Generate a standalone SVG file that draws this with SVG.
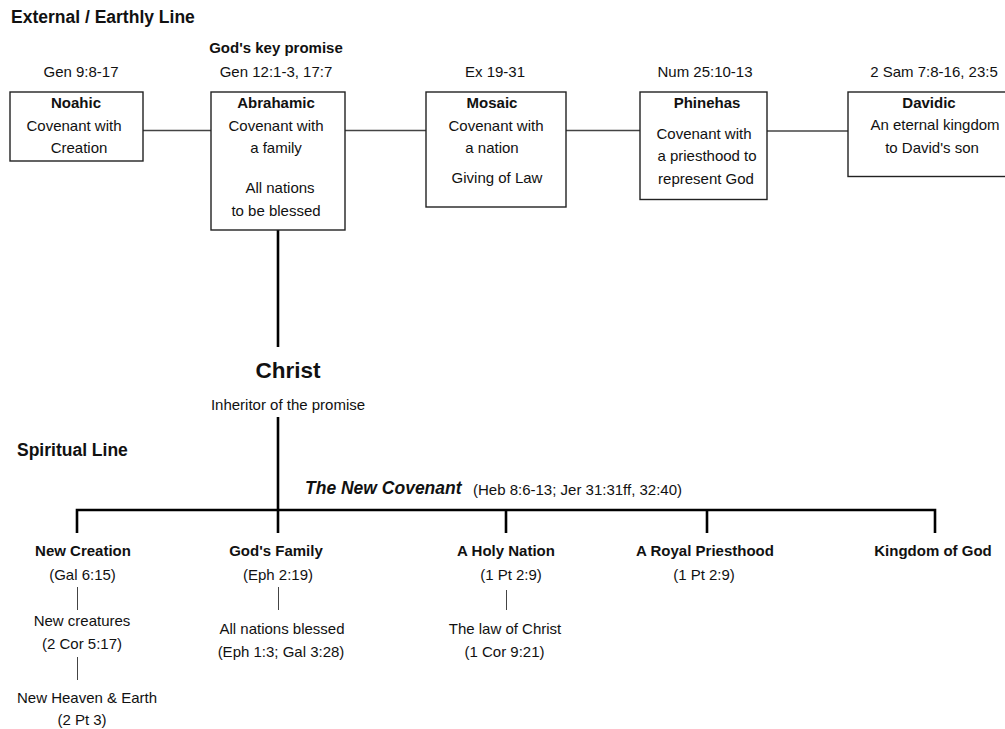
<svg xmlns="http://www.w3.org/2000/svg" width="1005" height="729" viewBox="0 0 1005 729">
<style>
text{font-family:"Liberation Sans",Arial,Helvetica,sans-serif;fill:#111;}
.t{font-size:15px;text-anchor:middle;}
.b{font-size:15px;font-weight:bold;text-anchor:middle;}
.h{font-size:17.5px;font-weight:bold;}
.box{fill:#fff;stroke:#222;stroke-width:1.4;}
.c{stroke:#444;stroke-width:1.3;fill:none;}
.k{stroke:#000;stroke-width:2.6;fill:none;}
.s{stroke:#444;stroke-width:1;fill:none;}
</style>
<rect width="1005" height="729" fill="#fff"/>
<text class="h" x="11" y="23">External / Earthly Line</text>
<text class="h" x="17" y="456">Spiritual Line</text>

<g id="connectors">
<line class="c" x1="143" y1="130.5" x2="211" y2="130.5"/>
<line class="c" x1="345" y1="130.5" x2="426" y2="130.5"/>
<line class="c" x1="566" y1="130.5" x2="640" y2="130.5"/>
<line class="c" x1="767" y1="131" x2="848" y2="131"/>
<line class="k" x1="278" y1="230" x2="278" y2="347"/>
<line class="k" x1="278" y1="417" x2="278" y2="510"/>
<polyline class="k" points="77,533 77,510 935,510 935,533"/>
<line class="k" x1="278" y1="510" x2="278" y2="533"/>
<line class="k" x1="506" y1="510" x2="506" y2="533"/>
<line class="k" x1="707" y1="510" x2="707" y2="533"/>
<line class="s" x1="77.5" y1="587" x2="77.5" y2="610"/>
<line class="s" x1="77.5" y1="657" x2="77.5" y2="680"/>
<line class="s" x1="278.5" y1="587" x2="278.5" y2="610"/>
<line class="s" x1="506.5" y1="590" x2="506.5" y2="610"/>
</g>

<g id="noahic">
<text class="t" x="81" y="77">Gen 9:8-17</text>
<rect class="box" x="10" y="92" width="133" height="69"/>
<text class="b" x="76" y="108">Noahic</text>
<text class="t" x="74" y="130.5">Covenant with</text>
<text class="t" x="79" y="153">Creation</text>
</g>

<g id="abrahamic">
<text class="b" x="276" y="53">God's key promise</text>
<text class="t" x="276" y="77">Gen 12:1-3, 17:7</text>
<rect class="box" x="211" y="92" width="134" height="138"/>
<text class="b" x="276" y="108">Abrahamic</text>
<text class="t" x="276" y="130.5">Covenant with</text>
<text class="t" x="276" y="153">a family</text>
<text class="t" x="280" y="193">All nations</text>
<text class="t" x="276" y="216">to be blessed</text>
</g>

<g id="mosaic">
<text class="t" x="495" y="76.5">Ex 19-31</text>
<rect class="box" x="426" y="92" width="140" height="115"/>
<text class="b" x="492" y="108">Mosaic</text>
<text class="t" x="496" y="131">Covenant with</text>
<text class="t" x="492" y="153">a nation</text>
<text class="t" x="497" y="183">Giving of Law</text>
</g>

<g id="phinehas">
<text class="t" x="705" y="76.5">Num 25:10-13</text>
<rect class="box" x="640" y="92" width="127" height="107.5"/>
<text class="b" x="707" y="108">Phinehas</text>
<text class="t" x="704" y="138.5">Covenant with</text>
<text class="t" x="707" y="161">a priesthood to</text>
<text class="t" x="706" y="184">represent God</text>
</g>

<g id="davidic">
<text class="t" x="934" y="76.5">2 Sam 7:8-16, 23:5</text>
<rect class="box" x="848" y="92" width="162" height="84.5"/>
<text class="b" x="929" y="108">Davidic</text>
<text class="t" x="935" y="130">An eternal kingdom</text>
<text class="t" x="932" y="153">to David's son</text>
</g>

<g id="christ">
<text x="288" y="378" style="font-size:22.5px;font-weight:bold;text-anchor:middle">Christ</text>
<text class="t" x="288" y="410">Inheritor of the promise</text>
</g>

<g id="new-covenant">
<text x="305" y="494" style="font-size:17.5px;font-weight:bold;font-style:italic">The New Covenant</text>
<text x="473" y="495" style="font-size:15px">(Heb 8:6-13; Jer 31:31ff, 32:40)</text>
</g>

<g id="new-creation">
<text class="b" x="83" y="555.5">New Creation</text>
<text class="t" x="82.5" y="580">(Gal 6:15)</text>
<text class="t" x="82" y="626">New creatures</text>
<text class="t" x="82" y="649">(2 Cor 5:17)</text>
<text class="t" x="87" y="703">New Heaven &amp; Earth</text>
<text class="t" x="82" y="725">(2 Pt 3)</text>
</g>

<g id="gods-family">
<text class="b" x="276" y="555.5">God's Family</text>
<text class="t" x="278" y="580">(Eph 2:19)</text>
<text class="t" x="282" y="634">All nations blessed</text>
<text class="t" x="281" y="657">(Eph 1:3; Gal 3:28)</text>
</g>

<g id="holy-nation">
<text class="b" x="506" y="556">A Holy Nation</text>
<text class="t" x="511" y="580">(1 Pt 2:9)</text>
<text class="t" x="505" y="634">The law of Christ</text>
<text class="t" x="504.5" y="656.5">(1 Cor 9:21)</text>
</g>

<g id="royal-priesthood">
<text class="b" x="705" y="556">A Royal Priesthood</text>
<text class="t" x="704" y="580">(1 Pt 2:9)</text>
</g>

<g id="kingdom">
<text class="b" x="933" y="556">Kingdom of God</text>
</g>
</svg>
